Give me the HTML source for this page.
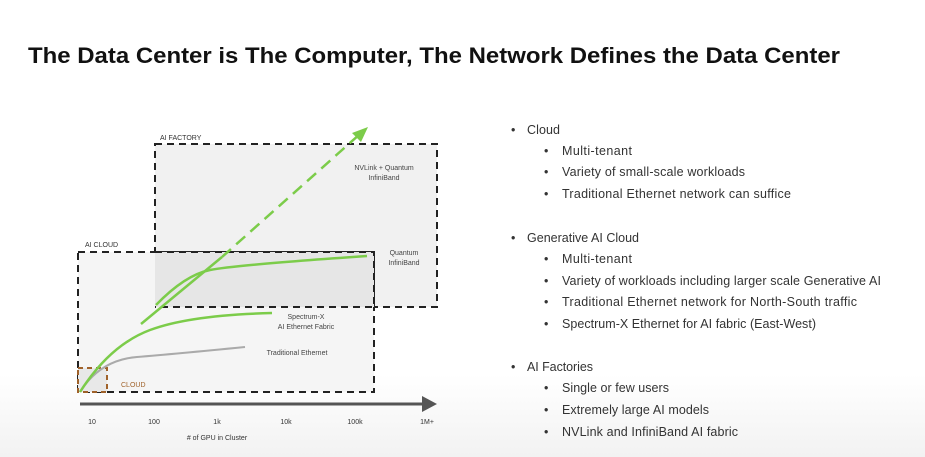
<!DOCTYPE html>
<html><head><meta charset="utf-8"><style>
html,body{margin:0;padding:0;background:#fff;}
svg{display:block;font-family:"Liberation Sans",sans-serif;}
</style></head><body>
<svg width="925" height="457" viewBox="0 0 925 457">
<defs><linearGradient id="bg" x1="0" y1="0" x2="0" y2="1"><stop offset="0.82" stop-color="#fff"/><stop offset="1" stop-color="#f2f2f2"/></linearGradient></defs>
<rect width="925" height="457" fill="url(#bg)"/>
<text x="28" y="63" font-size="22" font-weight="bold" fill="#111" textLength="812" lengthAdjust="spacingAndGlyphs">The Data Center is The Computer, The Network Defines the Data Center</text>

<rect x="155" y="144" width="282" height="163" fill="#f1f1f1" stroke="#222" stroke-width="2" stroke-dasharray="7,5"/>
<rect x="78" y="252" width="296" height="140" fill="#f5f5f5" stroke="#222" stroke-width="2" stroke-dasharray="7,5"/>
<rect x="155" y="252" width="219" height="55" fill="#e6e6e6"/>
<path d="M155 252 H374 V307 H155" fill="none" stroke="#222" stroke-width="2" stroke-dasharray="7,5"/>
<rect x="78" y="368" width="29" height="24" fill="#e8e8e8" stroke="#a0622a" stroke-width="2" stroke-dasharray="5,4"/>
<text x="160" y="140" font-size="7" fill="#333">AI FACTORY</text>
<text x="85" y="247" font-size="7" fill="#333">AI CLOUD</text>
<text x="121" y="387" font-size="7" fill="#a0622a">CLOUD</text>
<text x="384" y="170" font-size="7" fill="#444" text-anchor="middle">NVLink + Quantum</text>
<text x="384" y="180" font-size="7" fill="#444" text-anchor="middle">InfiniBand</text>
<text x="404" y="255" font-size="7" fill="#444" text-anchor="middle">Quantum</text>
<text x="404" y="265" font-size="7" fill="#444" text-anchor="middle">InfiniBand</text>
<text x="306" y="319" font-size="7" fill="#444" text-anchor="middle">Spectrum-X</text>
<text x="306" y="329" font-size="7" fill="#444" text-anchor="middle">AI Ethernet Fabric</text>
<text x="297" y="355" font-size="7" fill="#444" text-anchor="middle">Traditional Ethernet</text>

<path d="M80 392 Q100 360 137 357 T245 347" fill="none" stroke="#aaa" stroke-width="2"/>
<path d="M80 392 Q110 345 150 330 T272 313" fill="none" stroke="#7ccc4a" stroke-width="2.5"/>
<path d="M156 305 Q185 275 210 270 T367 256" fill="none" stroke="#7ccc4a" stroke-width="2.5"/>
<line x1="141" y1="324" x2="222" y2="257" stroke="#7ccc4a" stroke-width="2.5"/>
<line x1="222" y1="257" x2="360" y2="134" stroke="#7ccc4a" stroke-width="2.5" stroke-dasharray="12,7"/>
<polygon points="368,127 352,133 361,142" fill="#7ccc4a"/>

<line x1="80" y1="404" x2="424" y2="404" stroke="#555" stroke-width="3"/>
<polygon points="437,404 422,396 422,412" fill="#555"/>
<g font-size="7" fill="#333" text-anchor="middle">
<text x="92" y="424">10</text><text x="154" y="424">100</text><text x="217" y="424">1k</text>
<text x="286" y="424">10k</text><text x="355" y="424">100k</text><text x="427" y="424">1M+</text>
<text x="217" y="440"># of GPU in Cluster</text>
</g>

<g font-size="12.5" fill="#333" lengthAdjust="spacingAndGlyphs">
<text x="511" y="134">•</text><text x="527" y="134" textLength="33">Cloud</text>
<text x="544" y="155">•</text><text x="562" y="155" textLength="70">Multi-tenant</text>
<text x="544" y="176">•</text><text x="562" y="176" textLength="183">Variety of small-scale workloads</text>
<text x="544" y="198">•</text><text x="562" y="198" textLength="229">Traditional Ethernet network can suffice</text>
<text x="511" y="242">•</text><text x="527" y="242" textLength="112">Generative AI Cloud</text>
<text x="544" y="263">•</text><text x="562" y="263" textLength="70">Multi-tenant</text>
<text x="544" y="285">•</text><text x="562" y="285" textLength="319">Variety of workloads including larger scale Generative AI</text>
<text x="544" y="306">•</text><text x="562" y="306" textLength="295">Traditional Ethernet network for North-South traffic</text>
<text x="544" y="328">•</text><text x="562" y="328" textLength="254">Spectrum-X Ethernet for AI fabric (East-West)</text>
<text x="511" y="371">•</text><text x="527" y="371" textLength="66">AI Factories</text>
<text x="544" y="392">•</text><text x="562" y="392" textLength="107">Single or few users</text>
<text x="544" y="414">•</text><text x="562" y="414" textLength="147">Extremely large AI models</text>
<text x="544" y="436">•</text><text x="562" y="436" textLength="176">NVLink and InfiniBand AI fabric</text>
</g>
</svg>
</body></html>
